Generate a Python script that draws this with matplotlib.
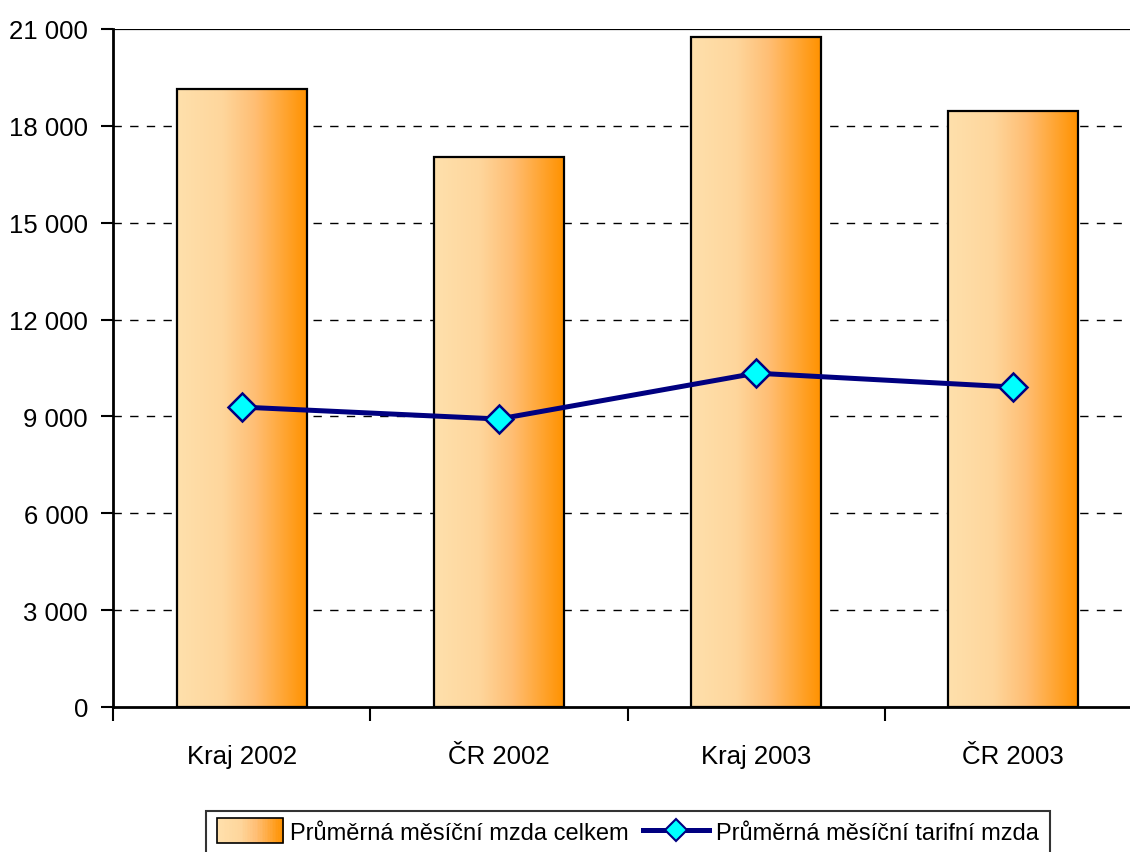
import matplotlib.pyplot as plt
import numpy as np
from matplotlib.colors import LinearSegmentedColormap
from matplotlib.ticker import FuncFormatter
from matplotlib.lines import Line2D
from matplotlib.patches import Patch, Rectangle

# Data
kategorie = ['Kraj 2002', 'ČR 2002', 'Kraj 2003', 'ČR 2003']
mzda_celkem = [19140, 17030, 20750, 18460]
mzda_tarifni = [9290, 8920, 10340, 9910]

plt.rcParams['font.family'] = ['Liberation Sans', 'DejaVu Sans']

fig = plt.figure(figsize=(11.3, 8.53), dpi=100)
ax = fig.add_axes([113 / 1130, 1 - 708 / 853, 1029 / 1130, 678 / 853])

# Gradient pro sloupce
cmap = LinearSegmentedColormap.from_list(
    'oranz', [(0.0, '#FFE0AC'), (0.35, '#FED69C'), (0.6, '#FFBE74'), (1.0, '#FF9200')])
grad = np.linspace(0, 1, 256).reshape(1, -1)

x = np.arange(len(kategorie))
sirka = 0.505
bars = ax.bar(x, mzda_celkem, width=sirka, facecolor='none', edgecolor='black',
              linewidth=1.6, zorder=3)
for b in bars:
    x0, w, h = b.get_x(), b.get_width(), b.get_height()
    im = ax.imshow(grad, cmap=cmap, extent=(x0, x0 + w, 0, h), aspect='auto', zorder=2)
    im.set_clip_path(b)

ax.plot(x, mzda_tarifni, color='#000080', linewidth=3.6, marker='D', markersize=14,
        markerfacecolor='#00FFFF', markeredgecolor='#000080', markeredgewidth=1.8, zorder=4)

ax.set_xlim(-0.5, 3.5)
ax.set_ylim(0, 21000)
ax.set_yticks(np.arange(0, 21001, 3000))
ax.yaxis.set_major_formatter(FuncFormatter(lambda v, p: f'{int(v):,}'.replace(',', ' ')))
ax.set_xticks(x)
ax.set_xticklabels(kategorie)
ax.set_xticks(np.arange(-0.5, 4, 1), minor=True)
ax.tick_params(axis='x', which='major', length=0, pad=27, labelsize=18.5)
ax.tick_params(axis='x', which='minor', length=10, width=1.5, direction='out')
ax.tick_params(axis='y', length=9, width=1.5, direction='out', pad=9, labelsize=18.5)

for v in np.arange(3000, 21000, 3000):
    ax.axhline(v, color='black', linestyle=(0, (6, 6)), linewidth=1, zorder=1)
ax.axhline(21000, color='black', linewidth=1.6, zorder=1)

ax.spines['right'].set_visible(False)
ax.spines['top'].set_visible(False)
ax.spines['left'].set_linewidth(2)
ax.spines['bottom'].set_linewidth(2)


# Legenda se sloupcem s prechodem
class GradientHandler:
    def legend_artist(self, legend, orig_handle, fontsize, handlebox):
        x0, y0 = handlebox.xdescent, handlebox.ydescent
        w, h = handlebox.width, handlebox.height
        n = 40
        for i in range(n):
            r = Rectangle((x0 + w * i / n - x0 * 0, y0 - 3), w / n + 0.3, h + 6,
                          facecolor=cmap(i / (n - 1)), edgecolor='none',
                          transform=handlebox.get_transform())
            handlebox.add_artist(r)
        ram = Rectangle((x0, y0 - 3), w, h + 6, facecolor='none', edgecolor='black',
                        linewidth=1.2, transform=handlebox.get_transform())
        handlebox.add_artist(ram)
        return ram


h_bar = Patch(facecolor='#FFC27C', edgecolor='black')
h_line = Line2D([], [], color='#000080', linewidth=3.6, marker='D', markersize=11,
                markerfacecolor='#00FFFF', markeredgecolor='#000080', markeredgewidth=1.5)
leg = fig.legend([h_bar, h_line], ['Průměrná měsíční mzda celkem', 'Průměrná měsíční tarifní mzda'],
                 loc='upper center', bbox_to_anchor=(628 / 1130, 1 - 812 / 853), ncol=2,
                 fontsize=17, frameon=True, fancybox=False, edgecolor='black',
                 handlelength=2.8, columnspacing=0.6, handletextpad=0.3, borderpad=0.45,
                 borderaxespad=0, handler_map={Patch: GradientHandler()})
leg.get_frame().set_linewidth(1.5)

fig.savefig('out.png', dpi=100)
